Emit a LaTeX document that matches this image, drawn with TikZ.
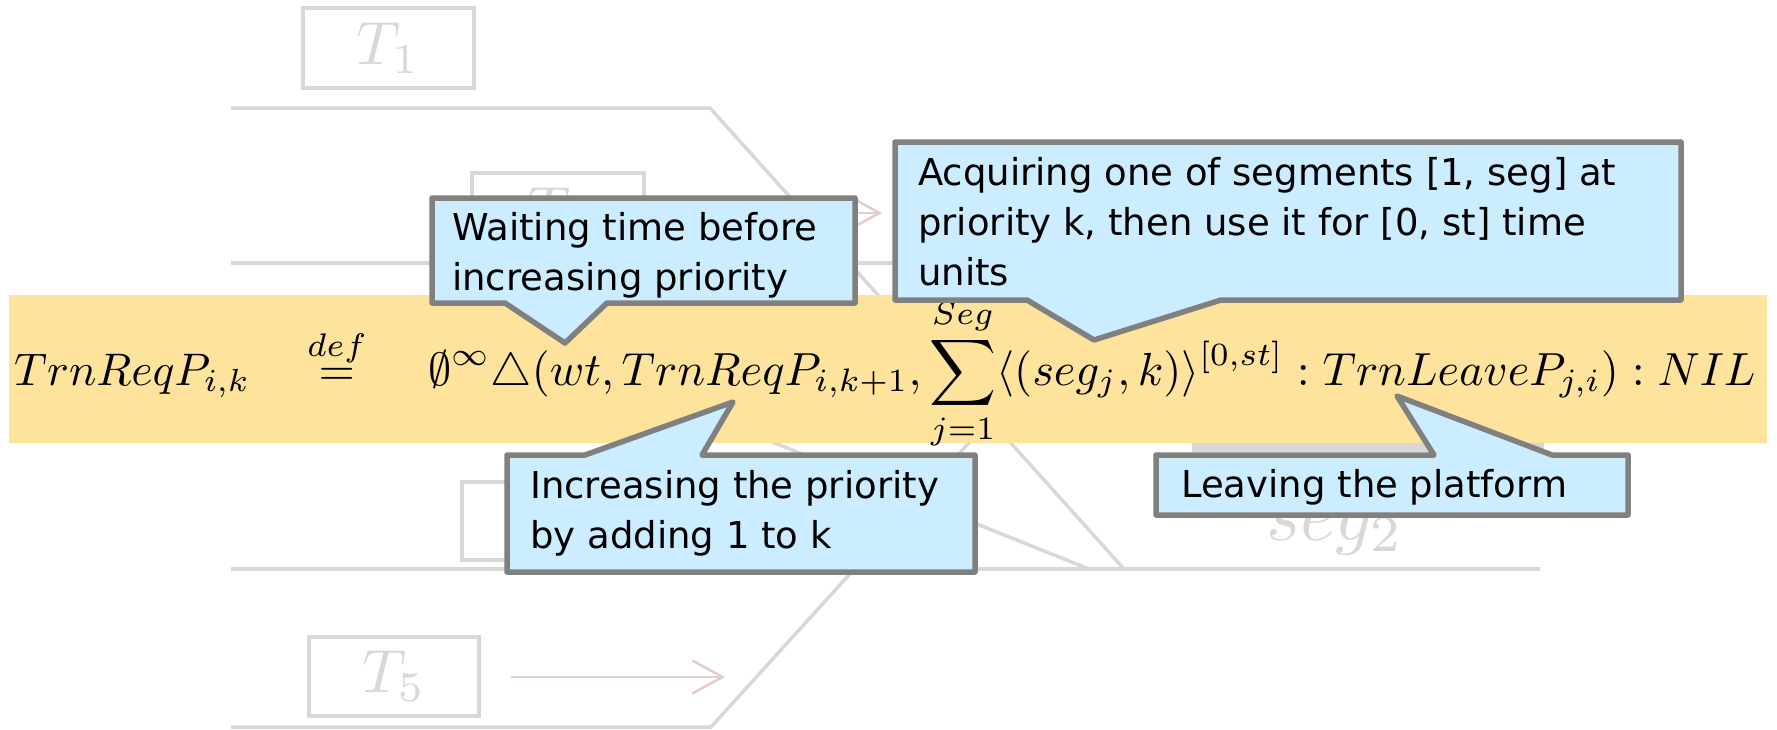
\documentclass[tikz,border=0pt]{standalone}
\usepackage{amsmath}
\usepackage{fontspec}
\usetikzlibrary{arrows.meta}
\newfontfamily\callfont{DejaVu Sans}
\definecolor{bandc}{RGB}{254,227,157}
\definecolor{callfill}{RGB}{204,236,255}
\definecolor{callborder}{RGB}{128,128,128}
\definecolor{faint}{RGB}{216,216,216}
\definecolor{faintred}{RGB}{228,205,205}
\begin{document}
\begin{tikzpicture}[x=1pt,y=-1pt,
  track/.style={line width=3.5pt, draw=faint},
  tbox/.style={draw=faint, line width=3.5pt, inner sep=0pt, text=faint},
  tarrow/.style={line width=2.5pt, draw=faintred, -{Straight Barb[length=30pt,width=33pt,line width=2.5pt]}},
  callout/.style={fill=callfill, draw=callborder, line width=5.5pt, line join=round},
  calltext/.style={font=\callfont\fontsize{37}{50}\selectfont, align=left, anchor=base west, inner sep=0pt, text=black},
  mathpart/.style={anchor=base west, inner sep=0pt, text=black}
]
\useasboundingbox (0,0) rectangle (1777,729);
\fill[white] (0,0) rectangle (1777,729);

% ---- faded station background ----
\coordinate (a1) at (231,108);
\coordinate (a2) at (710,108);
\coordinate (a3) at (1124,569);
\draw[track] (a1) -- (a2) -- (a3);
\coordinate (b1) at (231,263);
\coordinate (b2) at (1540,263);
\draw[track] (b1) -- (b2);
\coordinate (c1) at (231,405);
\coordinate (c2) at (680,405);
\coordinate (c3) at (1089,569);
\draw[track] (c1) -- (c2) -- (c3);
\coordinate (d1) at (231,569);
\coordinate (d2) at (1540,569);
\draw[track] (d1) -- (d2);
\coordinate (e1) at (231,727);
\coordinate (e2) at (711,727);
\coordinate (e3) at (1132,263);
\draw[track] (e1) -- (e2) -- (e3);

\fill[faint] (1192,400) rectangle (1544,452);
\node[text=faint, inner sep=0pt] (seg2) at (1335,532) {\scalebox{7.4}{$seg_2$}};

\node[tbox, minimum width=171pt, minimum height=80pt] (t1) at (388.5,48) {\scalebox{6.1}{$T_1$}};
\node[tbox, minimum width=172pt, minimum height=80pt] (t2) at (558,213) {\scalebox{6.1}{$T_2$}};
\node[tbox, minimum width=171pt, minimum height=78pt] (t4) at (547.5,521) {};
\node[tbox, minimum width=170pt, minimum height=79pt] (t5) at (394,676.5) {\scalebox{6.1}{$T_5$}};

\coordinate (t2s) at (676,213);
\coordinate (t2e) at (882,213);
\draw[tarrow] (t2s) -- (t2e);
\coordinate (t5s) at (511,677);
\coordinate (t5e) at (725,677);
\draw[tarrow] (t5s) -- (t5e);

% ---- yellow band with the formula ----
\fill[bandc] (9,295) rectangle (1767,443);
\node[mathpart] (lhs) at (14,385) {\resizebox{236pt}{!}{$TrnReqP_{i,k}$}};
\node[mathpart] (defeq) at (307,385) {\scalebox{4.67}{$\stackrel{def}{=}$}};
\node[mathpart] (rhs) at (428,385) {\resizebox{1327pt}{!}{$\displaystyle \emptyset^{\infty}\triangle(wt, TrnReqP_{i,k+1}, \sum_{j=1}^{Seg}\langle(seg_j,k)\rangle^{[0,st]} : TrnLeaveP_{j,i}) : NIL$}};

% ---- callouts ----
\draw[callout] (432,198) -- (855,198) -- (855,303) -- (607,303) -- (565,343) -- (505,303) -- (432,303) -- cycle;
\node[calltext] (c1text) at (452,290) {Waiting time before\\increasing priority};

\draw[callout] (507,455) -- (585,455) -- (733,402) -- (702,455) -- (975,455) -- (975,572) -- (507,572) -- cycle;
\node[calltext] (c2text) at (530,548) {Increasing the priority\\by adding 1 to k};

\draw[callout] (895,142) -- (1681,142) -- (1681,300) -- (1221,300) -- (1094,340) -- (1027,300) -- (895,300) -- cycle;
\node[calltext] (c3text) at (918,285) {Acquiring one of segments [1, seg] at\\priority k, then use it for [0, st] time\\units};

\draw[callout] (1156,455) -- (1434,455) -- (1397,396) -- (1552,455) -- (1628,455) -- (1628,515) -- (1156,515) -- cycle;
\node[calltext] (c4text) at (1181,497) {Leaving the platform};
\end{tikzpicture}
\end{document}
